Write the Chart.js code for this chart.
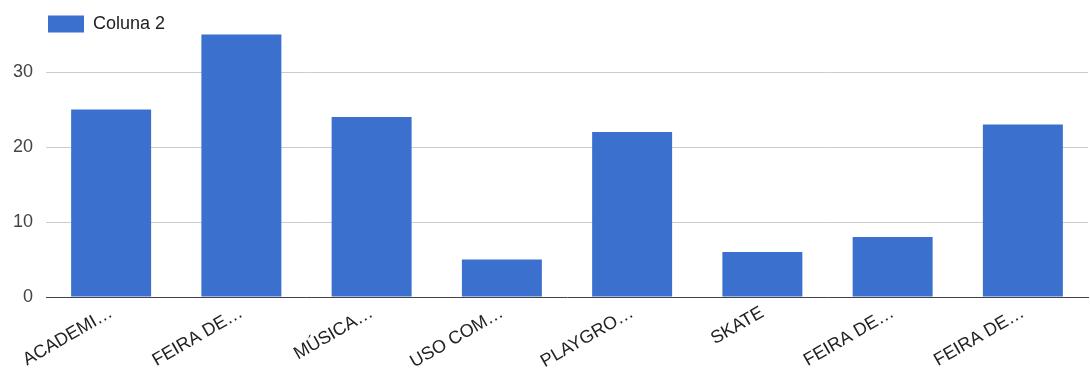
<!DOCTYPE html>
<html>
<head>
<meta charset="utf-8">
<script src="https://cdn.jsdelivr.net/npm/chart.js@4"></script>
<style>
  html, body { margin: 0; padding: 0; background: #fff; }
  #wrap { width: 1090px; height: 370px; }
</style>
</head>
<body>
<div id="wrap"><canvas id="chart" width="1090" height="370"></canvas></div>
<script>
const categories = ['ACADEMI…', 'FEIRA DE…', 'MÚSICA…', 'USO COM…', 'PLAYGRO…', 'SKATE', 'FEIRA DE…', 'FEIRA DE…'];
const coluna2    = [25, 35, 24, 5, 22, 6, 8, 23];
const yTicks     = [0, 10, 20, 30];

const FONT = 'Arial, "Liberation Sans", sans-serif';
const BAR_COLOR = '#3b70cf';

// legend sits over the empty top of the plot; nudge it down a bit
const legendNudge = {
    id: 'legendNudge',
    afterLayout(chart) {
        chart.legend.top += 13;
        chart.legend.bottom += 13;
    }
};

new Chart(document.getElementById('chart').getContext('2d'), {
    type: 'bar',
    data: {
        labels: categories,
        datasets: [{
            label: 'Coluna 2',
            data: coluna2,
            backgroundColor: BAR_COLOR,
            borderWidth: 0,
            barPercentage: 0.614,
            categoryPercentage: 1,
        }]
    },
    plugins: [legendNudge],
    options: {
        responsive: false,
        animation: false,
        layout: { padding: { top: 12, right: 2, left: 0, bottom: 0 } },
        plugins: {
            legend: {
                position: 'chartArea',
                align: 'start',
                labels: {
                    boxWidth: 36,
                    boxHeight: 17,
                    padding: 2,
                    color: '#222',
                    font: { family: FONT, size: 18 },
                }
            },
            tooltip: { enabled: false },
        },
        scales: {
            x: {
                grid: { display: false },
                border: { color: '#444', width: 1 },
                ticks: {
                    color: '#222',
                    font: { family: FONT, size: 18 },
                    minRotation: 30,
                    maxRotation: 30,
                    autoSkip: false,
                    padding: -3,
                },
                afterFit: s => { s.height = 73; s.paddingLeft = 0; s.paddingRight = 0; },
            },
            y: {
                min: 0,
                max: 38,
                grid: {
                    color: ctx => ctx.tick && ctx.tick.value === 0 ? 'transparent' : '#cccccc',
                    drawTicks: false,
                },
                border: { display: false },
                afterBuildTicks: s => { s.ticks = yTicks.map(v => ({ value: v })); },
                ticks: {
                    color: '#444',
                    font: { family: FONT, size: 18 },
                    padding: 13,
                },
                afterFit: s => { s.width = 46; s.paddingTop = 0; s.paddingBottom = 0; },
            }
        }
    }
});
</script>
</body>
</html>
